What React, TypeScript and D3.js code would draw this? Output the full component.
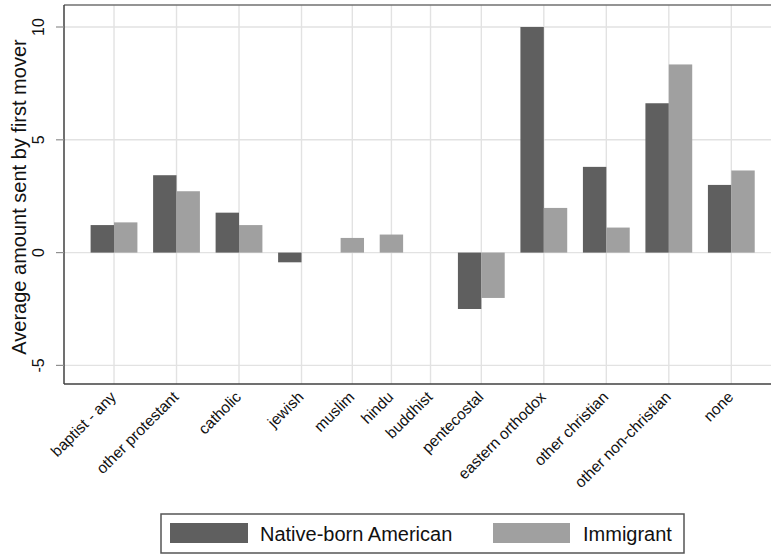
import React from "react";
import * as d3 from "d3";

const categories = [
  "baptist - any",
  "other protestant",
  "catholic",
  "jewish",
  "muslim",
  "hindu",
  "buddhist",
  "pentecostal",
  "eastern orthodox",
  "other christian",
  "other non-christian",
  "none",
];
const nativeBorn: (number | null)[] = [1.22, 3.43, 1.77, -0.43, null, null, null, -2.5, 10.0, 3.8, 6.62, 3.0];
const immigrant: (number | null)[] = [1.34, 2.72, 1.22, 0, 0.65, 0.8, null, -2.01, 1.98, 1.11, 8.34, 3.64];
const yTicks = [-5, 0, 5, 10];
const seriesNames = ["Native-born American", "Immigrant"];
const seriesColors = ["#5f5f5f", "#a0a0a0"];

const W = 771;
const H = 555;
const FONT = "'Liberation Sans', Arial, Helvetica, sans-serif";

export default function App() {
  const left = 64;
  const top = 5;
  const bottom = 384;
  const barUnit = 23.4;
  const gapU = 0.671;
  const outerU = 1.137;

  const x = d3.scaleLinear().domain([0, 1]).range([left, left + barUnit]);
  const y = d3.scaleLinear().domain([-5, 10]).range([365.4, 27.0]);

  const groups: { cat: string; start: number; bars: { v: number; s: number }[]; center: number }[] = [];
  let u = outerU;
  categories.forEach((c, i) => {
    const vals = [nativeBorn[i], immigrant[i]];
    const bars: { v: number; s: number }[] = [];
    vals.forEach((v, s) => {
      if (v !== null) bars.push({ v: v as number, s });
    });
    const n = Math.max(1, bars.length);
    groups.push({ cat: c, start: u, bars, center: u + n / 2 });
    u += n + gapU;
  });
  const right = x(u - gapU + outerU);

  return (
    <svg
      width={W}
      height={H}
      style={{ position: "absolute", left: 0, top: 0, background: "#fff" }}
      fontFamily={FONT}
    >
      <rect x={0} y={0} width={W} height={H} fill="#fff" />
      {yTicks.map((t) => (
        <line key={"gy" + t} x1={left} x2={right} y1={y(t)} y2={y(t)} stroke="#e2e2e2" strokeWidth={1.4} />
      ))}
      {groups.map((g) => (
        <line key={"gx" + g.cat} x1={x(g.center)} x2={x(g.center)} y1={top} y2={bottom} stroke="#e2e2e2" strokeWidth={1.4} />
      ))}
      {groups.map((g) =>
        g.bars.map((b, k) => {
          const x0 = x(g.start + k);
          const y0 = y(0);
          const y1 = y(b.v);
          return (
            <rect
              key={g.cat + k}
              x={x0}
              width={barUnit}
              y={Math.min(y0, y1)}
              height={Math.abs(y1 - y0)}
              fill={seriesColors[b.s]}
            />
          );
        })
      )}
      <line x1={left} x2={right} y1={top} y2={top} stroke="#707070" strokeWidth={1.5} />
      <line x1={left} x2={left} y1={top} y2={bottom} stroke="#404040" strokeWidth={1.5} />
      <line x1={left} x2={right} y1={bottom} y2={bottom} stroke="#404040" strokeWidth={1.5} />
      {yTicks.map((t) => (
        <g key={"yt" + t}>
          <line x1={left - 8} x2={left} y1={y(t)} y2={y(t)} stroke="#909090" strokeWidth={1.2} />
          <text
            transform={`translate(44,${y(t)}) rotate(-90)`}
            textAnchor="middle"
            fontSize={16}
            fill="#111"
          >
            {t}
          </text>
        </g>
      ))}
      <text
        transform={`translate(26,197) rotate(-90)`}
        textAnchor="middle"
        fontSize={20}
        fill="#111"
      >
        Average amount sent by first mover
      </text>
      {groups.map((g) => (
        <text
          key={"xl" + g.cat}
          transform={`translate(${x(g.center) + 3},${bottom + 14}) rotate(-45)`}
          textAnchor="end"
          fontSize={15.5}
          fill="#111"
        >
          {g.cat}
        </text>
      ))}
      <rect x={161} y={514} width={523} height={39} fill="#fff" stroke="#555" strokeWidth={1.5} />
      <rect x={170} y={523} width={78} height={20} fill={seriesColors[0]} />
      <text x={260} y={541} fontSize={20} fill="#111">
        {seriesNames[0]}
      </text>
      <rect x={493} y={523} width={77} height={20} fill={seriesColors[1]} />
      <text x={583} y={541} fontSize={20} fill="#111">
        {seriesNames[1]}
      </text>
    </svg>
  );
}
